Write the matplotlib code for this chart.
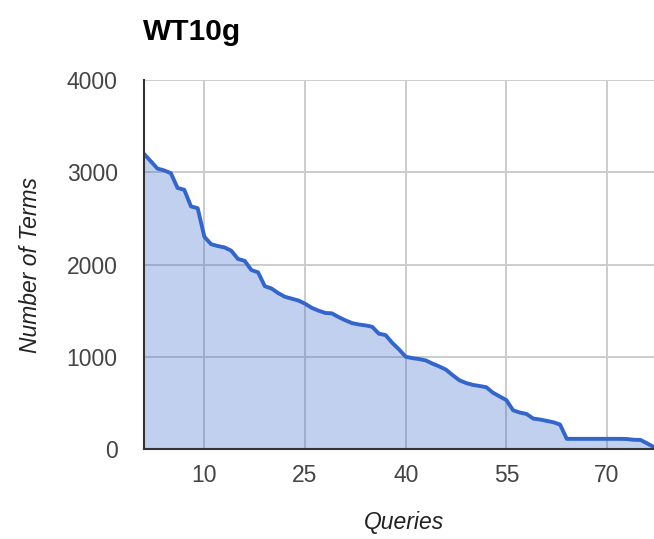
import matplotlib
matplotlib.use("Agg")
import matplotlib.pyplot as plt

# Number of terms per query, sorted in descending order (WT10g collection)
queries = list(range(1, 78))
terms = [
    3200, 3120, 3040, 3020, 2990, 2830, 2810, 2630, 2610, 2300,
    2220, 2200, 2185, 2150, 2060, 2040, 1940, 1915, 1765, 1740,
    1690, 1650, 1630, 1610, 1575, 1530, 1500, 1475, 1470, 1430,
    1395, 1365, 1350, 1340, 1325, 1250, 1235, 1150, 1080, 1000,
    985, 975, 960, 925, 895, 860, 800, 745, 715, 695,
    683, 670, 610, 570, 530, 420, 395, 380, 330, 320,
    305, 290, 265, 110, 110, 110, 110, 110, 110, 110,
    110, 110, 108, 100, 98, 60, 20,
]
x_ticks = [10, 25, 40, 55, 70]
y_ticks = [0, 1000, 2000, 3000, 4000]

title = "WT10g"
x_title = "Queries"
y_title = "Number of Terms"

line_color = "#3366cc"
font = "Liberation Sans"

fig = plt.figure(figsize=(6.54, 5.39), dpi=100)
ax = fig.add_axes([144 / 654, 90 / 539, 510 / 654, 369 / 539])

ax.fill_between(queries, terms, 0, color=line_color, alpha=0.3, linewidth=0, zorder=2)
ax.plot(queries, terms, color=line_color, linewidth=2.8, zorder=3,
        solid_joinstyle="round", solid_capstyle="round")

ax.set_xlim(1, 77)
ax.set_ylim(0, 4000)
ax.set_xticks(x_ticks)
ax.set_yticks(y_ticks)
ax.grid(True, color="#cccccc", linewidth=1.4, zorder=1)
ax.set_axisbelow(True)
ax.tick_params(length=0, labelsize=16.5, labelcolor="#444444")
ax.tick_params(axis="y", pad=19)
ax.tick_params(axis="x", pad=11)
for lab in ax.get_xticklabels() + ax.get_yticklabels():
    lab.set_fontfamily(font)

for side in ("top", "right"):
    ax.spines[side].set_visible(False)
for side in ("left", "bottom"):
    ax.spines[side].set_color("#333333")
    ax.spines[side].set_linewidth(1.5)
    ax.spines[side].set_zorder(4)

fig.text(143 / 654, 1 - 32 / 539, title, fontsize=21.5, fontweight="bold",
         family=font, ha="left", va="center", color="#000000")
fig.text(404 / 654, 1 - 522 / 539, x_title, fontsize=16.5, style="italic",
         family=font, ha="center", va="center", color="#222222")
fig.text(31 / 654, 1 - 265 / 539, y_title, fontsize=16.5, style="italic",
         family=font, ha="center", va="center", rotation=90, color="#222222")

fig.savefig("out.png", dpi=100)
